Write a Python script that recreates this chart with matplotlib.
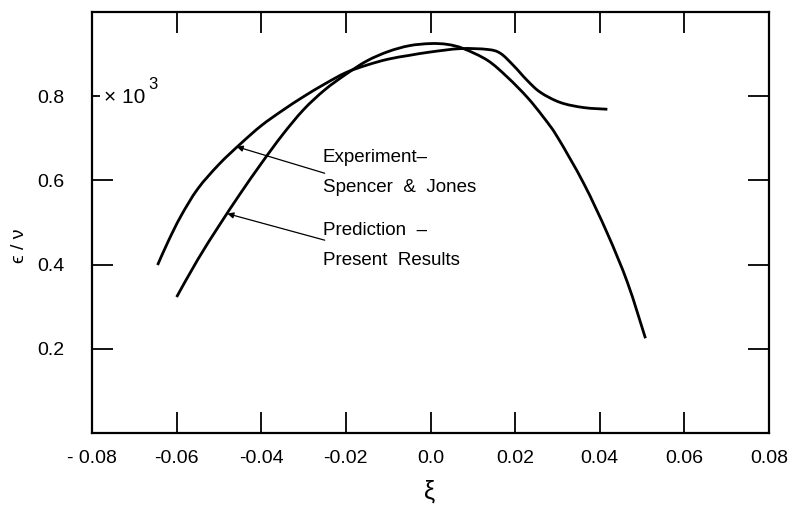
import matplotlib
matplotlib.use("Agg")
import matplotlib.pyplot as plt
from matplotlib.path import Path
from matplotlib.patches import PathPatch
import numpy as np

plt.rcParams['font.family'] = ['Liberation Sans', 'DejaVu Sans']

# Experiment - Spencer & Jones
exp_x = [-0.0645, -0.0620, -0.0590, -0.0550, -0.0500, -0.0450, -0.0400, -0.0350,
         -0.0300, -0.0250, -0.0200, -0.0150, -0.0100, -0.0050, 0.0000, 0.0071,
         0.0135, 0.0165, 0.0196, 0.0229, 0.0260, 0.0307, 0.0362, 0.0418]
exp_y = [0.399, 0.455, 0.515, 0.580, 0.638, 0.686, 0.730, 0.766,
         0.799, 0.829, 0.856, 0.874, 0.888, 0.897, 0.905, 0.913,
         0.911, 0.902, 0.873, 0.837, 0.809, 0.785, 0.773, 0.769]

# Prediction - Present Results
pred_x = [-0.0600, -0.0550, -0.0500, -0.0450, -0.0400, -0.0350, -0.0300, -0.0250,
          -0.0200, -0.0150, -0.0100, -0.0050, 0.0000, 0.0040, 0.0078, 0.0135,
          0.0182, 0.0229, 0.0267, 0.0300, 0.0362, 0.0418, 0.0466, 0.0508]
pred_y = [0.323, 0.412, 0.492, 0.568, 0.640, 0.708, 0.768, 0.815,
          0.852, 0.884, 0.906, 0.920, 0.925, 0.923, 0.913, 0.885,
          0.845, 0.797, 0.750, 0.703, 0.593, 0.474, 0.356, 0.225]

xticks = [-0.08, -0.06, -0.04, -0.02, 0.0, 0.02, 0.04, 0.06, 0.08]
xticklabels = ['- 0.08', '-0.06', '-0.04', '-0.02', '0.0', '0.02', '0.04', '0.06', '0.08']
yticks = [0.2, 0.4, 0.6, 0.8]
yticklabels = ['0.2', '0.4', '0.6', '0.8']


def smooth_path(xs, ys):
    """Catmull-Rom curve through the given points as a cubic Bezier Path."""
    p = np.column_stack([xs, ys]).astype(float)
    n = len(p)
    verts = [p[0]]
    codes = [Path.MOVETO]
    for i in range(n - 1):
        p0 = p[i - 1] if i > 0 else p[i]
        p1 = p[i]
        p2 = p[i + 1]
        p3 = p[i + 2] if i + 2 < n else p[i + 1]
        c1 = p1 + (p2 - p0) / 6.0
        c2 = p2 - (p3 - p1) / 6.0
        verts += [c1, c2, p2]
        codes += [Path.CURVE4] * 3
    return Path(verts, codes)


fig = plt.figure(figsize=(7.88, 5.11), dpi=100)
ax = fig.add_axes([92/788, 1-433/511, (769-92)/788, (433-12)/511])

for xs, ys in [(exp_x, exp_y), (pred_x, pred_y)]:
    ax.add_patch(PathPatch(smooth_path(xs, ys), facecolor='none', edgecolor='black',
                           lw=2.0, capstyle='butt'))

ax.set_xlim(-0.08, 0.08)
ax.set_ylim(0.0, 1.0)
ax.set_xticks(xticks)
ax.set_xticklabels(xticklabels, fontsize=14)
ax.set_yticks(yticks)
ax.set_yticklabels(yticklabels, fontsize=14)
ax.tick_params(direction='in', length=15, width=1.3, top=True, right=True, pad=12)
ax.tick_params(axis='y', pad=20)
for s in ax.spines.values():
    s.set_linewidth(1.6)
# the left tick at 0.8 is short in the original (leaves room for the x10^3 note)
ax.yaxis.get_major_ticks()[3].tick1line.set_markersize(6)

# annotations
ap = dict(arrowstyle='-|>', lw=0.9, color='black', mutation_scale=9, shrinkA=0, shrinkB=0)
ax.annotate('', xy=(-0.0458, 0.680), xytext=(-0.0250, 0.617), arrowprops=ap)
ax.annotate('', xy=(-0.0480, 0.521), xytext=(-0.0250, 0.458), arrowprops=ap)
ax.text(-0.0255, 0.655, 'Experiment\u2013', fontsize=13.5, va='center', ha='left')
ax.text(-0.0255, 0.583, 'Spencer  &  Jones', fontsize=13.5, va='center', ha='left')
ax.text(-0.0255, 0.482, 'Prediction  \u2013', fontsize=13.5, va='center', ha='left')
ax.text(-0.0255, 0.410, 'Present  Results', fontsize=13.5, va='center', ha='left')

ax.text(-0.0772, 0.797, '\u00d7 10', fontsize=15, va='center', ha='left')
ax.text(-0.0668, 0.827, '3', fontsize=12, va='center', ha='left')

fig.text(20/788, 1-246/511, '\u03f5 / \u03bd', rotation=90, fontsize=14, ha='center', va='center')
fig.text(430/788, 1-492/511, '\u03be', fontsize=18, ha='center', va='center')

fig.savefig('out.png', dpi=100)
